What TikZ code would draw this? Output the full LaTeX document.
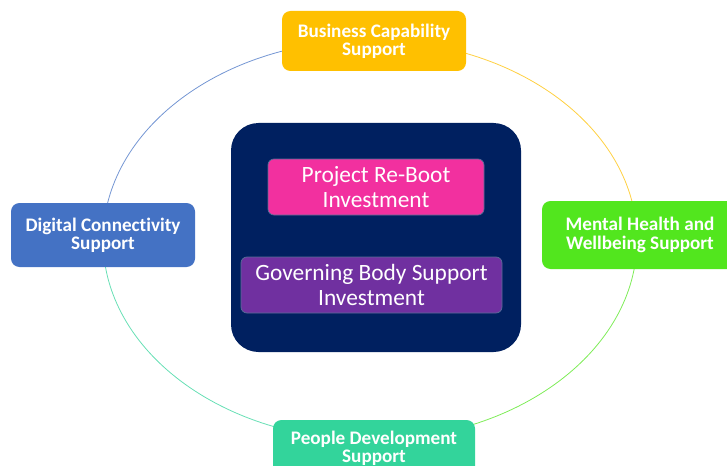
\documentclass[tikz,border=0pt]{standalone}
\usepackage{fontspec}
\setmainfont{Carlito}[Ligatures=NoCommon]
\definecolor{capyellow}{HTML}{FFC000}
\definecolor{digiblue}{HTML}{4472C4}
\definecolor{wellgreen}{HTML}{52E61E}
\definecolor{peopleteal}{HTML}{33D49B}
\definecolor{coreblue}{HTML}{002060}
\definecolor{rebootpink}{HTML}{F2309F}
\definecolor{govpurple}{HTML}{7030A0}
\begin{document}
\begin{tikzpicture}[x=0.02cm,y=-0.02cm,
	outer/.style={rounded corners=0.17cm,text=white,align=center,font=\fontsize{10.9}{10.4}\selectfont\bfseries,inner sep=0pt},
	inner/.style={rounded corners=0.12cm,text=white,align=center,font=\fontsize{13.3}{14.3}\selectfont,inner sep=0pt,draw=white!35!coreblue,line width=.4pt},
	ring/.style={line width=.45pt}]
	\useasboundingbox (0,0) rectangle (727,466);
	% ring behind the boxes
	\coordinate (c) at (370,240);
	\draw[ring,digiblue!75] (c) ++(180:5.34cm and 4cm) arc[start angle=180,end angle=90,x radius=5.34cm,y radius=4cm];
	\draw[ring,capyellow!75] (c) ++(90:5.34cm and 4cm) arc[start angle=90,end angle=0,x radius=5.34cm,y radius=4cm];
	\draw[ring,wellgreen!75] (c) ++(0:5.34cm and 4cm) arc[start angle=0,end angle=-90,x radius=5.34cm,y radius=4cm];
	\draw[ring,peopleteal!75] (c) ++(-90:5.34cm and 4cm) arc[start angle=-90,end angle=-180,x radius=5.34cm,y radius=4cm];
	% outer boxes
	\node[outer,fill=capyellow,minimum width=184*0.02cm,minimum height=60*0.02cm] (cap) at (374,41) {Business Capability\\Support};
	\node[outer,fill=digiblue,minimum width=184*0.02cm,minimum height=64*0.02cm] (digi) at (103,235) {Digital Connectivity\\Support};
	\node[outer,fill=wellgreen,minimum width=196*0.02cm,minimum height=68*0.02cm] (well) at (640,235) {Mental Health and\\Wellbeing Support};
	\node[outer,fill=peopleteal,minimum width=202*0.02cm,minimum height=56*0.02cm] (people) at (374,448) {People Development\\Support};
	% core
	\node[fill=coreblue,rounded corners=0.55cm,minimum width=290*0.02cm,minimum height=229*0.02cm] (core) at (376,237.5) {};
	\node[inner,fill=rebootpink,minimum width=216*0.02cm,minimum height=56*0.02cm] (reboot) at (376,187) {Project Re-Boot\\Investment};
	\node[inner,fill=govpurple,minimum width=261*0.02cm,minimum height=56*0.02cm] (gov) at (371.5,285) {Governing Body Support\\Investment};
\end{tikzpicture}
\end{document}
